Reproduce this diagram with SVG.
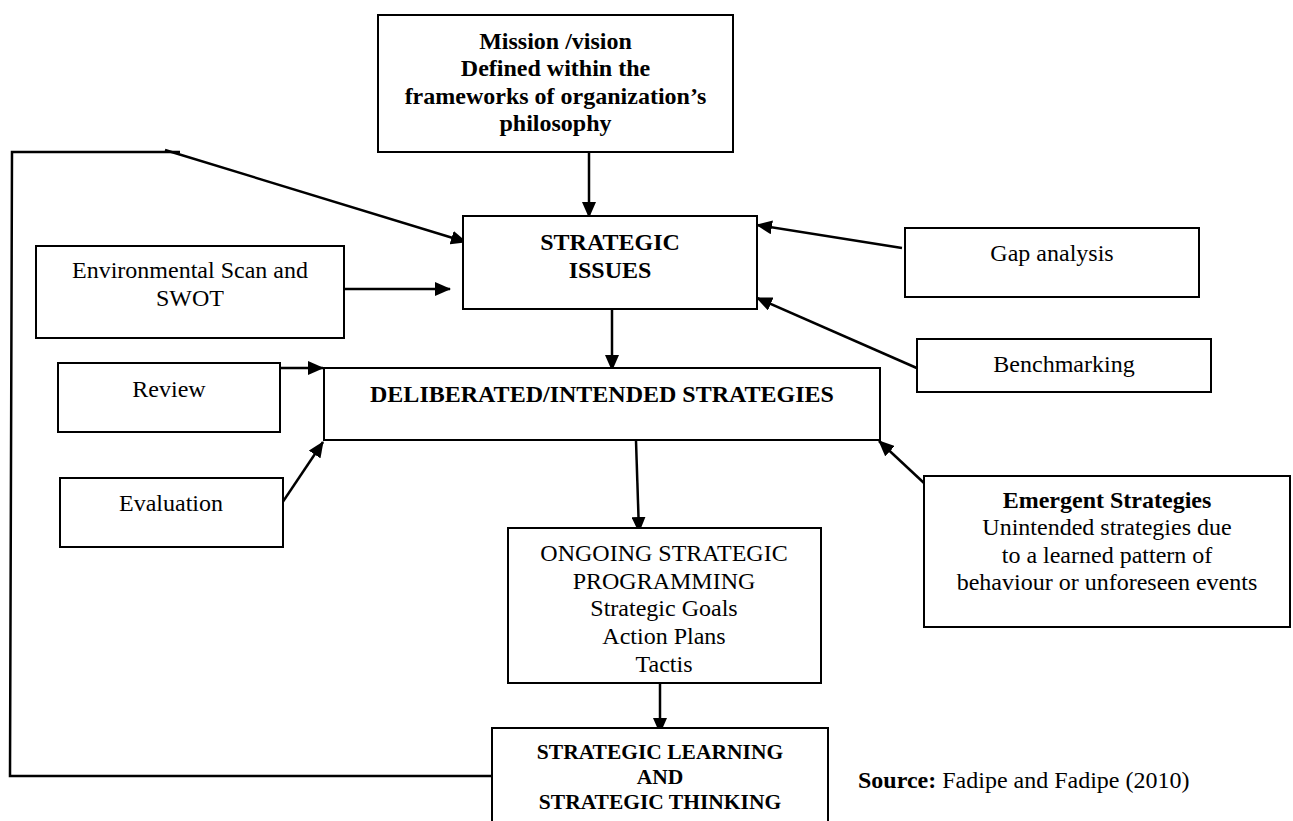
<svg xmlns="http://www.w3.org/2000/svg" width="1293" height="821" viewBox="0 0 1293 821">
<style>
.box{fill:#fff;stroke:#000;stroke-width:2}
.t{font-family:"Liberation Serif","Times New Roman",serif;font-size:24px;fill:#000;text-anchor:middle}
.b{font-weight:bold}
.c{fill:none;stroke:#000;stroke-width:2.5}
</style>
<defs>
<marker id="ah" markerUnits="userSpaceOnUse" markerWidth="16" markerHeight="14" refX="15" refY="7" orient="auto">
<path d="M0,0 L16,7 L0,14 z" fill="#000"/>
</marker>
</defs>
<rect width="1293" height="821" fill="#fff"/>
<g id="connectors">
<line class="c" x1="589" y1="152" x2="589" y2="217" marker-end="url(#ah)"/>
<polyline class="c" points="180,152 12,152 10,776 492,776" stroke-width="2"/>
<line class="c" x1="165" y1="150" x2="466" y2="242" marker-end="url(#ah)"/>
<line class="c" x1="344" y1="289" x2="450" y2="289" marker-end="url(#ah)"/>
<line class="c" x1="902" y1="248" x2="757" y2="225" marker-end="url(#ah)"/>
<line class="c" x1="919" y1="369" x2="757" y2="298" marker-end="url(#ah)"/>
<line class="c" x1="612" y1="308" x2="612" y2="370" marker-end="url(#ah)"/>
<line class="c" x1="277" y1="368" x2="323" y2="368" marker-end="url(#ah)"/>
<line class="c" x1="276" y1="512" x2="323" y2="442" marker-end="url(#ah)"/>
<line class="c" x1="924" y1="483" x2="879" y2="441" marker-end="url(#ah)"/>
<line class="c" x1="636" y1="441" x2="639" y2="532" marker-end="url(#ah)"/>
<line class="c" x1="660" y1="682" x2="660" y2="733" marker-end="url(#ah)"/>
</g>
<g id="mission">
<rect class="box" x="378" y="15" width="355" height="137"/>
<text class="t b" x="555.5" y="49">Mission /vision</text>
<text class="t b" x="555.5" y="76">Defined within the</text>
<text class="t b" x="555.5" y="104">frameworks of organization’s</text>
<text class="t b" x="555.5" y="131">philosophy</text>
</g>
<g id="strategic-issues">
<rect class="box" x="463" y="216" width="294" height="93"/>
<text class="t b" x="610" y="250">STRATEGIC</text>
<text class="t b" x="610" y="278">ISSUES</text>
</g>
<g id="env-scan">
<rect class="box" x="36" y="246" width="308" height="92"/>
<text class="t" x="190" y="278">Environmental Scan and</text>
<text class="t" x="190" y="306">SWOT</text>
</g>
<g id="gap-analysis">
<rect class="box" x="905" y="228" width="294" height="69"/>
<text class="t" x="1052" y="261">Gap analysis</text>
</g>
<g id="benchmarking">
<rect class="box" x="917" y="339" width="294" height="53"/>
<text class="t" x="1064" y="372">Benchmarking</text>
</g>
<g id="review">
<rect class="box" x="58" y="363" width="222" height="69"/>
<text class="t" x="169" y="397">Review</text>
</g>
<g id="deliberated">
<rect class="box" x="324" y="368" width="556" height="72"/>
<text class="t b" x="602" y="402">DELIBERATED/INTENDED STRATEGIES</text>
</g>
<g id="evaluation">
<rect class="box" x="60" y="478" width="223" height="69"/>
<text class="t" x="171" y="511">Evaluation</text>
</g>
<g id="emergent">
<rect class="box" x="924" y="476" width="366" height="151"/>
<text class="t b" x="1107" y="508">Emergent Strategies</text>
<text class="t" x="1107" y="535">Unintended strategies due</text>
<text class="t" x="1107" y="563">to a learned pattern of</text>
<text class="t" x="1107" y="590">behaviour or unforeseen events</text>
</g>
<g id="ongoing">
<rect class="box" x="508" y="528" width="313" height="155"/>
<text class="t" x="664" y="561">ONGOING STRATEGIC</text>
<text class="t" x="664" y="589">PROGRAMMING</text>
<text class="t" x="664" y="616">Strategic Goals</text>
<text class="t" x="664" y="644">Action Plans</text>
<text class="t" x="664" y="672">Tactis</text>
</g>
<g id="learning">
<rect class="box" x="492" y="728" width="336" height="110"/>
<text class="t b" x="660" y="759" style="font-size:21.5px">STRATEGIC LEARNING</text>
<text class="t b" x="660" y="784" style="font-size:21.5px">AND</text>
<text class="t b" x="660" y="809" style="font-size:21.5px">STRATEGIC THINKING</text>
</g>
<g id="source">
<text class="t" x="858" y="788" style="text-anchor:start"><tspan font-weight="bold">Source:</tspan> Fadipe and Fadipe (2010)</text>
</g>
</svg>
